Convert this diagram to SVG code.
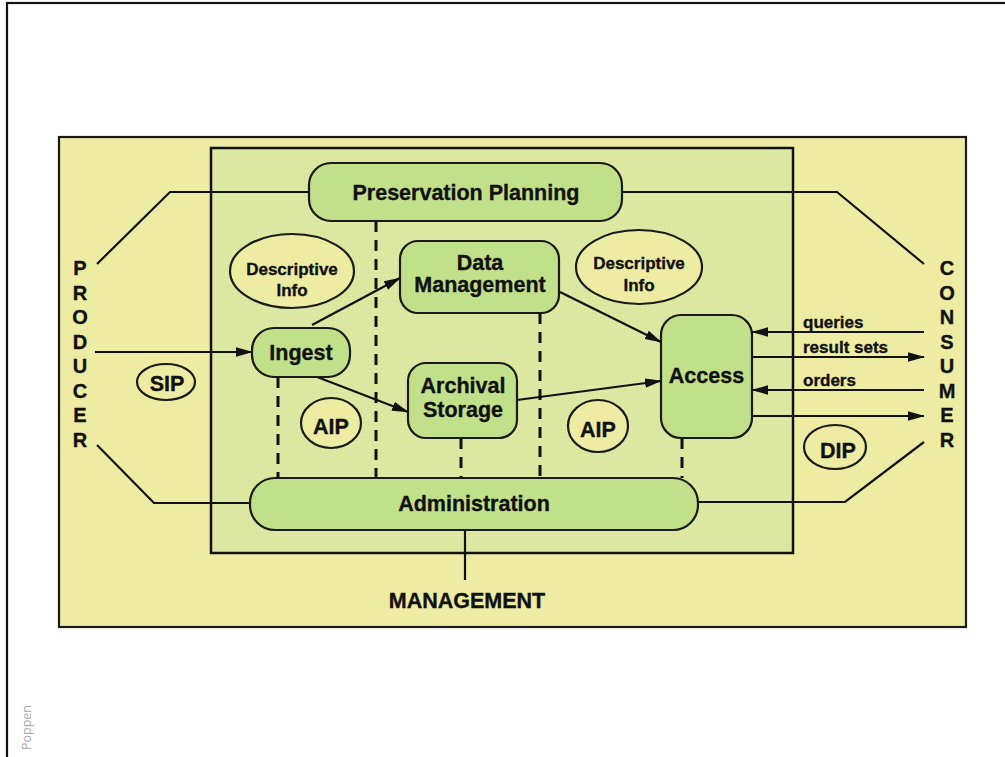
<svg xmlns="http://www.w3.org/2000/svg" width="1005" height="757" viewBox="0 0 1005 757">
<defs>
<marker id="ah" markerUnits="userSpaceOnUse" markerWidth="17" markerHeight="11" refX="16" refY="5.5" orient="auto">
<path d="M0,0.8 L17,5.5 L0,10.2 Z" fill="#111"/>
</marker>
<pattern id="dots" width="4" height="4" patternUnits="userSpaceOnUse">
<rect width="4" height="4" fill="#DDE9A3"/>
<circle cx="1" cy="1" r="0.6" fill="#CADA93"/>
</pattern>
</defs>
<style>
.t{font-family:"Liberation Sans",Arial,sans-serif;font-weight:bold;fill:#111;stroke:#111;stroke-width:0.35;text-anchor:middle}
.node{fill:#C0E08A;stroke:#1a1a1a;stroke-width:2.2}
.ell{fill:#EEECA2;stroke:#1a1a1a;stroke-width:2.2}
.ln{fill:none;stroke:#111;stroke-width:2.2}
.dash{fill:none;stroke:#111;stroke-width:3;stroke-dasharray:11 8}
.arr{fill:none;stroke:#111;stroke-width:2.2;marker-end:url(#ah)}
.big{font-size:21.5px}
.mid{font-size:17px}
.lbl{font-size:17px;text-anchor:start}
.vl{font-size:20px}
</style>
<rect width="1005" height="757" fill="#fff"/>
<rect x="7" y="3" width="1100" height="900" fill="none" stroke="#111" stroke-width="2.2"/>
<text transform="translate(31,750) rotate(-90)" style="font-family:'Open Sans','Liberation Sans',sans-serif;font-size:12.5px;fill:#aaa">Poppen</text>

<g id="environment">
<rect x="59" y="137" width="907" height="490" fill="#EEECA2" stroke="#1a1a1a" stroke-width="2.2"/>
<rect x="211" y="148" width="582" height="405" fill="url(#dots)" stroke="#111" stroke-width="2.5"/>
</g>

<g id="connectors">
<path class="ln" d="M309,192 H170 L97,264"/>
<path class="ln" d="M622,192 H837 L924,264"/>
<path class="ln" d="M250,503 H154 L97,445"/>
<path class="ln" d="M698,502 H845 L924,442"/>
<path class="ln" d="M465,530 V580"/>
<path class="arr" d="M95,352 H252"/>
<path class="arr" d="M312,325 L400,278"/>
<path class="arr" d="M312,375 L408,412"/>
<path class="arr" d="M560,292 L661,342"/>
<path class="arr" d="M517,400 L661,381"/>
<path class="arr" d="M924,332 H752"/>
<path class="arr" d="M752,357 H924"/>
<path class="arr" d="M924,390 H752"/>
<path class="arr" d="M752,416 H924"/>
<path class="dash" d="M278,377 V478"/>
<path class="dash" d="M376,221 V478"/>
<path class="dash" d="M461,438 V478"/>
<path class="dash" d="M540,313 V478"/>
<path class="dash" d="M682,438 V478"/>
</g>

<g id="preservation-planning">
<rect class="node" x="309" y="163" width="313" height="58" rx="22"/>
<text class="t big" x="466" y="199.5">Preservation Planning</text>
</g>
<g id="data-management">
<rect class="node" x="400" y="241" width="159" height="72" rx="18"/>
<text class="t big" x="480" y="270">Data</text>
<text class="t big" x="480" y="292">Management</text>
</g>
<g id="ingest">
<rect class="node" x="252" y="328" width="98" height="49" rx="22"/>
<text class="t big" x="301" y="359.5">Ingest</text>
</g>
<g id="archival-storage">
<rect class="node" x="408" y="363" width="109" height="75" rx="18"/>
<text class="t big" x="463" y="393">Archival</text>
<text class="t big" x="463" y="417">Storage</text>
</g>
<g id="access">
<rect class="node" x="661" y="315" width="91" height="123" rx="20"/>
<text class="t big" x="706.5" y="383">Access</text>
</g>
<g id="administration">
<rect class="node" x="250" y="478" width="448" height="52" rx="25"/>
<text class="t big" x="474" y="511">Administration</text>
</g>

<g id="descriptive-info-1">
<ellipse class="ell" cx="292" cy="271" rx="62" ry="37"/>
<text class="t mid" x="292" y="274.5">Descriptive</text>
<text class="t mid" x="292" y="295.5">Info</text>
</g>
<g id="descriptive-info-2">
<ellipse class="ell" cx="639" cy="267" rx="63" ry="37"/>
<text class="t mid" x="639" y="269">Descriptive</text>
<text class="t mid" x="639" y="291">Info</text>
</g>
<g id="sip">
<ellipse class="ell" cx="166" cy="382" rx="29" ry="18"/>
<text class="t big" x="167" y="390.5">SIP</text>
</g>
<g id="aip-1">
<ellipse class="ell" cx="331" cy="423" rx="30" ry="25"/>
<text class="t big" x="331" y="434">AIP</text>
</g>
<g id="aip-2">
<ellipse class="ell" cx="598" cy="426" rx="30" ry="26"/>
<text class="t big" x="598" y="437">AIP</text>
</g>
<g id="dip">
<ellipse class="ell" cx="835" cy="447" rx="31" ry="22"/>
<text class="t big" x="838" y="457.5">DIP</text>
</g>

<g id="flow-labels">
<text class="t lbl" x="803" y="328">queries</text>
<text class="t lbl" x="803" y="353">result sets</text>
<text class="t lbl" x="803" y="386">orders</text>
</g>

<g id="producer">
<text class="t vl" x="80" y="275">P</text>
<text class="t vl" x="80" y="300">R</text>
<text class="t vl" x="80" y="324">O</text>
<text class="t vl" x="80" y="349">D</text>
<text class="t vl" x="80" y="373">U</text>
<text class="t vl" x="80" y="398">C</text>
<text class="t vl" x="80" y="422">E</text>
<text class="t vl" x="80" y="447">R</text>
</g>
<g id="consumer">
<text class="t vl" x="947" y="275">C</text>
<text class="t vl" x="947" y="300">O</text>
<text class="t vl" x="947" y="324">N</text>
<text class="t vl" x="947" y="349">S</text>
<text class="t vl" x="947" y="373">U</text>
<text class="t vl" x="947" y="398">M</text>
<text class="t vl" x="947" y="422">E</text>
<text class="t vl" x="947" y="447">R</text>
</g>
<g id="management">
<text class="t big" x="467" y="608">MANAGEMENT</text>
</g>
</svg>
